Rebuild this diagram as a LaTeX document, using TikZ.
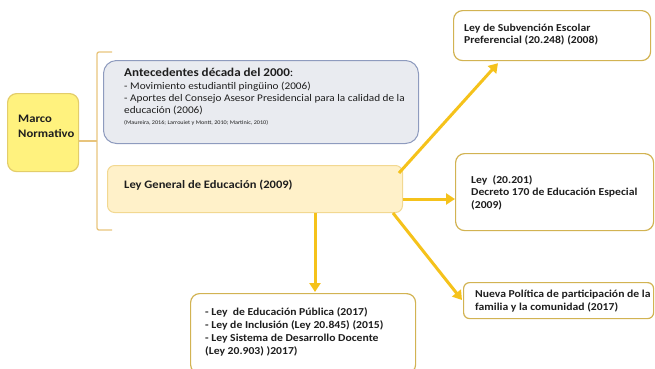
\documentclass[tikz,border=0pt]{standalone}
\usepackage{fontspec}
\setmainfont[FakeStretch=1.1]{Carlito}
\usetikzlibrary{arrows.meta}
\definecolor{gold}{HTML}{F5C21B}
\definecolor{boxedge}{HTML}{D2B352}
\definecolor{marcofill}{HTML}{FFF27E}
\definecolor{marcoedge}{HTML}{E3CD6A}
\definecolor{antefill}{HTML}{E9EBF0}
\definecolor{anteedge}{HTML}{8E9BBE}
\definecolor{lgenfill}{HTML}{FFF1C9}
\definecolor{lgenedge}{HTML}{F2D891}
\definecolor{braceclr}{HTML}{E8C47C}
\definecolor{txt}{HTML}{1E1E1E}
\tikzset{
  boxbase/.style={draw, line width=1.2pt, rounded corners=9pt, inner sep=0pt, anchor=north west},
  whitebox/.style={boxbase, draw=boxedge, fill=white},
  lbl/.style={anchor=north west, inner sep=0pt, align=left, text=txt, font=\fontsize{10.6}{12.8}\selectfont\bfseries},
  goldarrow/.style={draw=gold, line width=3pt, -{Triangle[width=11pt,length=9pt]}},
}
\begin{document}
\begin{tikzpicture}[x=1pt,y=-1pt]
\useasboundingbox (0,0) rectangle (655,368);
% boxes
\node[boxbase, draw=marcoedge, fill=marcofill, minimum width=71pt, minimum height=78pt] (marco) at (7,93) {};
\node[boxbase, draw=anteedge, fill=antefill, line width=1pt, rounded corners=13pt, minimum width=315pt, minimum height=83pt] (ante) at (103,60) {};
\node[boxbase, draw=lgenedge, fill=lgenfill, line width=1pt, rounded corners=7pt, minimum width=295pt, minimum height=47pt] (lgen) at (107,165) {};
\node[whitebox, minimum width=197pt, minimum height=50pt] (sub) at (453,10) {};
\node[whitebox, minimum width=198pt, minimum height=77pt] (ley) at (455,153) {};
\node[whitebox, rounded corners=6pt, minimum width=190pt, minimum height=36pt] (nueva) at (463,282) {};
\node[whitebox, minimum width=225pt, minimum height=80pt] (pub) at (190,293) {};
% texts
\node[lbl, font=\fontsize{11.5}{15}\selectfont\bfseries] (marcot) at (18,114.4) {Marco\\Normativo};
\node[lbl, font=\fontsize{11.9}{13}\selectfont\bfseries] (antet) at (124,68) {Antecedentes década del 2000{\mdseries :}};
\node[lbl, font=\fontsize{10.2}{11.6}\selectfont\mdseries] (antei) at (124,82.3) {- Movimiento estudiantil pingüino (2006)\\
- Aportes del Consejo Asesor Presidencial para la calidad de la\\
educación (2006)};
\node[lbl, font=\fontsize{5.6}{7}\selectfont\mdseries] (antec) at (124,119.8) {(Maureira, 2016; Larrouiet y Montt, 2010; Martinic, 2010)};
\node[lbl, font=\fontsize{11.4}{13}\selectfont\bfseries] (lgent) at (124,179.5) {Ley General de Educación (2009)};
\node[lbl, font=\fontsize{10.6}{12.3}\selectfont\bfseries] (subt) at (464,24) {Ley de Subvención Escolar\\Preferencial (20.248) (2008)};
\node[lbl] (leyt) at (471,175) {Ley\ \ (20.201)\\Decreto 170 de Educación Especial\\(2009)};
\node[lbl] (nuevat) at (475,290) {Nueva Política de participación de la\\familia y la comunidad (2017)};
\node[lbl, font=\fontsize{10.6}{13}\selectfont\bfseries] (pubt) at (205,307) {- Ley\ \ de Educación Pública (2017)\\- Ley de Inclusión (Ley 20.845) (2015)\\- Ley Sistema de Desarrollo Docente\\(Ley 20.903) )2017)};
% brace
\coordinate (bmid) at (97,141);
\coordinate (btop) at (112,52);
\coordinate (bbot) at (112,230);
\draw[braceclr, line width=1.3pt, rounded corners=2pt] (btop) -- (97,52) -- (97,230) -- (bbot);
\draw[braceclr, line width=1.3pt] (marco.east |- bmid) -- (bmid);
% arrows
\draw[goldarrow] ([xshift=-4pt,yshift=-8pt]lgen.north east) -- ([xshift=45pt,yshift=-2pt]sub.south west);
\draw[goldarrow] ([yshift=-10pt]lgen.north east |- lgen.east) -- ([yshift=-10pt]lgen.east -| ley.west);
\draw[goldarrow] ([xshift=-10pt]lgen.south east) -- ([xshift=-1pt,yshift=-18pt]nueva.north west);
\draw[goldarrow] ([xshift=208pt]lgen.south west) -- ([xshift=125pt,yshift=1pt]pub.north west);
\end{tikzpicture}
\end{document}
